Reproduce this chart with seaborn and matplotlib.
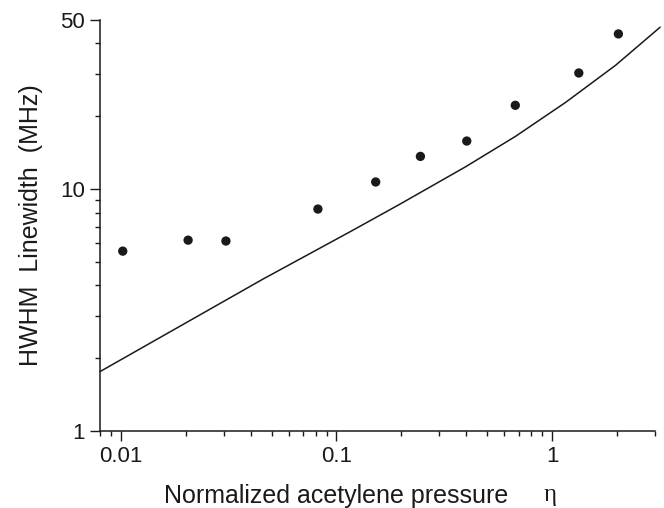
import seaborn as sns
import pandas as pd
import matplotlib.pyplot as plt
from matplotlib.ticker import FixedLocator, FixedFormatter, NullFormatter

# measured points
eta = [0.0102, 0.0205, 0.0307, 0.082, 0.152, 0.245, 0.402, 0.675, 1.33, 2.03]
hwhm = [5.54, 6.15, 6.10, 8.27, 10.7, 13.65, 15.8, 22.2, 30.2, 43.8]

# theory curve
curve_eta = [0.008, 0.0457, 0.1155, 0.194, 0.396, 0.675, 1.153, 1.97, 3.17]
curve_hwhm = [1.76, 4.25, 6.66, 8.6, 12.35, 16.5, 22.8, 32.5, 46.7]

x_major = [0.01, 0.1, 1]
x_major_labels = ['0.01', '0.1', '1']
y_major = [1, 10, 50]
y_major_labels = ['1', '10', '50']

ink = '#1a1a1a'

sns.set_theme(style='ticks')
plt.rcParams['font.family'] = ['Liberation Sans', 'DejaVu Sans']

fig, ax = plt.subplots(figsize=(6.64, 5.08), dpi=100)
fig.subplots_adjust(left=0.1506, right=0.9864, bottom=0.1516, top=0.9606)

pts = pd.DataFrame({'eta': eta, 'hwhm': hwhm})
line = pd.DataFrame({'eta': curve_eta, 'hwhm': curve_hwhm})

sns.lineplot(data=line, x='eta', y='hwhm', color=ink, linewidth=1.1,
             ax=ax, clip_on=False)
sns.scatterplot(data=pts, x='eta', y='hwhm', color=ink, s=45,
                edgecolor='none', ax=ax, zorder=3)

ax.set_xscale('log')
ax.set_yscale('log')
ax.set_xlim(0.008, 3.0)
ax.set_ylim(1, 50)

ax.xaxis.set_major_locator(FixedLocator(x_major))
ax.xaxis.set_major_formatter(FixedFormatter(x_major_labels))
ax.xaxis.set_minor_formatter(NullFormatter())
ax.yaxis.set_major_locator(FixedLocator(y_major))
ax.yaxis.set_major_formatter(FixedFormatter(y_major_labels))
ax.yaxis.set_minor_formatter(NullFormatter())

ax.tick_params(which='major', length=7, width=1.0, colors=ink,
               labelsize=16, pad=4)
ax.tick_params(which='minor', length=3.5, width=1.0, colors=ink)

for s in ['top', 'right']:
    ax.spines[s].set_visible(False)
for s in ['left', 'bottom']:
    ax.spines[s].set_linewidth(1.1)
    ax.spines[s].set_color(ink)

ax.set_xlabel('Normalized acetylene pressure', fontsize=18, color=ink)
ax.xaxis.set_label_coords(0.426, -0.13)
ax.text(0.811, -0.13, 'η', transform=ax.transAxes, fontsize=18,
        family=['Liberation Serif', 'DejaVu Serif'], color=ink,
        ha='center', va='top')
ax.set_ylabel('HWHM  Linewidth  (MHz)', fontsize=18, color=ink, labelpad=12)

fig.savefig('out.png', dpi=100)
